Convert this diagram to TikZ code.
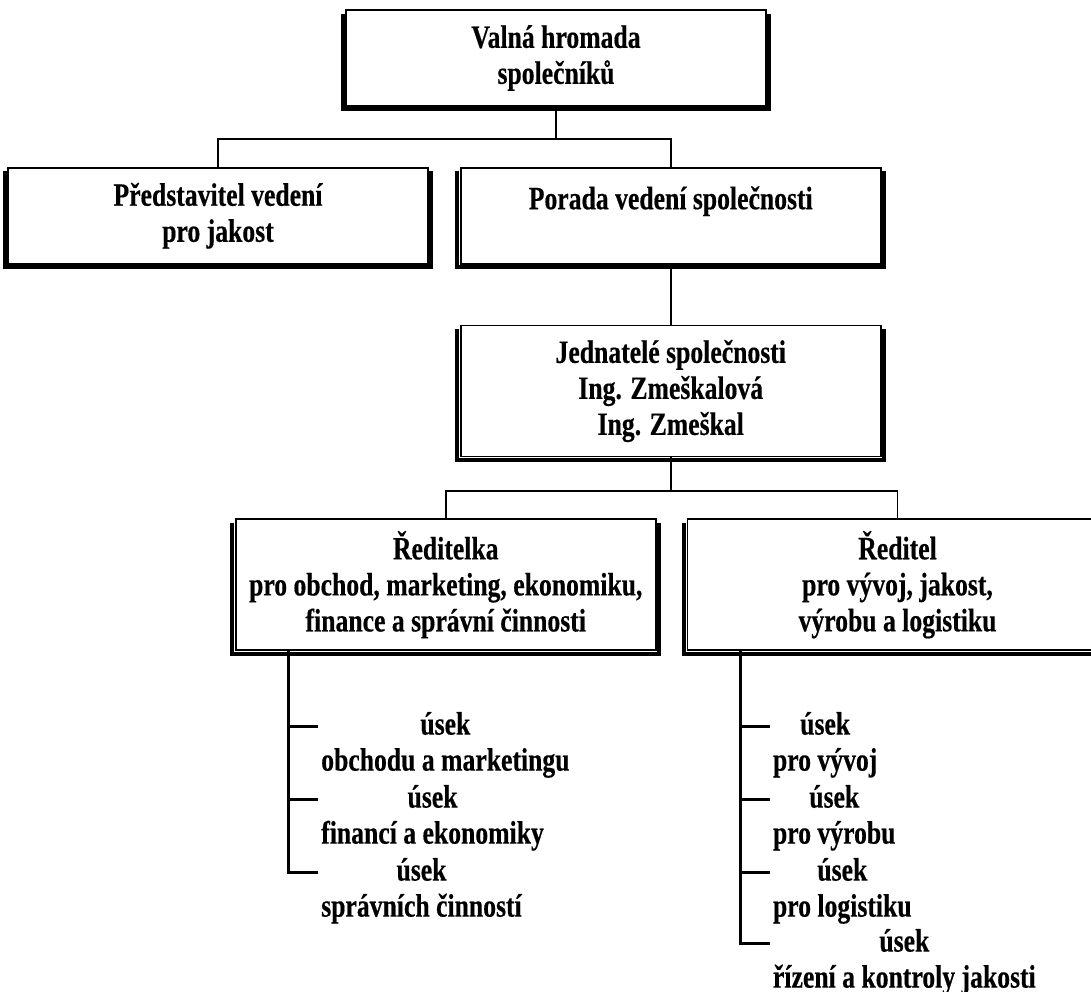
\documentclass[tikz,border=0pt]{standalone}
\usepackage{fontspec}
\setmainfont{Liberation Serif}[FakeStretch=0.79,BoldFeatures={FakeBold=0.4}]
\usetikzlibrary{calc, positioning}
\newcommand\boxshadow[1]{
    \draw [line width=2.3pt] ($(#1.north west)+(-0.05cm,-0.09cm)$) -- ($(#1.south west)+(-0.05cm,-0.05cm)$) -- ($(#1.south east)+(0.05cm,-0.05cm)$) -- ($(#1.north east)+(0.05cm,-0.09cm)$);
}
\tikzstyle{orgbox}  = [rectangle,draw=black,line width=1pt,fill=white,align=center,minimum width=8.4cm,minimum height=1.92cm,inner sep=0pt]
\tikzstyle{tallbox} = [orgbox,minimum height=2.62cm]
\tikzstyle{unit}    = [align=center,inner sep=0pt,anchor=north west]
\tikzstyle{link}    = [line width=1.1pt]
\tikzstyle{branch}  = [line width=1.6pt]

\begin{document}
\begin{tikzpicture}[font=\bfseries\fontsize{18.5}{20.5}\selectfont]
        \path[use as bounding box, clip] (0,0) rectangle (21.82,-19.84);

        \node[orgbox]                 (valna)        at (11.12,-1.16)                        {Valná hromada\\ společníků};
        \node[orgbox,anchor=north]    (predstavitel) at ($(valna.south)+(-6.76cm,-1.2cm)$)  {Představitel vedení\\ pro jakost};
        \node[orgbox]                 (porada)       [right=0.62cm of predstavitel]         {Porada vedení společnosti\\ ~};
        \node[tallbox,anchor=north]   (jednatele)    at ($(porada.south)+(0,-1.2cm)$)       {Jednatelé společnosti\\ Ing. Zmeškalová\\ Ing. Zmeškal};
        \node[tallbox,anchor=north]   (reditelka)    at ($(jednatele.south)+(-4.5cm,-1.22cm)$) {Ředitelka\\ pro obchod, marketing, ekonomiku,\\ finance a správní činnosti};
        \node[tallbox]                (reditel)      [right=0.6cm of reditelka]             {Ředitel\\ pro vývoj, jakost,\\ výrobu a logistiku};

        \draw[link] (valna.south) -- ++(0,-0.64cm) -| (predstavitel.north);
        \draw[link] (valna.south) -- ++(0,-0.64cm) -| (porada.north);
        \draw[link] (porada.south) -- (jednatele.north);
        \draw[link] (jednatele.south) -- ++(0,-0.68cm) -| (reditelka.north);
        \draw[link] (jednatele.south) -- ++(0,-0.68cm) -| (reditel.north);

        \boxshadow{valna}
        \boxshadow{predstavitel}
        \boxshadow{porada}
        \boxshadow{jednatele}
        \boxshadow{reditelka}
        \boxshadow{reditel}

        \coordinate (stem left)  at ($(reditelka.south west)+(1.08cm,0)$);
        \coordinate (stem right) at ($(reditel.south west)+(1.08cm,0)$);

        \node[unit] (obchod)    at ($(reditelka.south west)+(1.72cm,-1.21cm)$) {úsek\\ obchodu a marketingu};
        \node[unit] (finance)   at ($(reditelka.south west)+(1.72cm,-2.67cm)$) {úsek\\ financí a ekonomiky};
        \node[unit] (sprava)    at ($(reditelka.south west)+(1.72cm,-4.13cm)$) {úsek\\ správních činností};
        \node[unit] (vyvoj)     at ($(reditel.south west)+(1.72cm,-1.21cm)$)   {úsek\\ pro vývoj};
        \node[unit] (vyroba)    at ($(reditel.south west)+(1.72cm,-2.67cm)$)   {úsek\\ pro výrobu};
        \node[unit] (logistika) at ($(reditel.south west)+(1.72cm,-4.13cm)$)   {úsek\\ pro logistiku};
        \node[unit] (kontrola)  at ($(reditel.south west)+(1.72cm,-5.55cm)$)   {úsek\\ řízení a kontroly jakosti};

        \draw[branch] (stem left) |- ($(obchod.north west)+(-0.06cm,-0.3cm)$);
        \draw[branch] (stem left) |- ($(finance.north west)+(-0.06cm,-0.3cm)$);
        \draw[branch] (stem left) |- ($(sprava.north west)+(-0.06cm,-0.3cm)$);
        \draw[branch] (stem right) |- ($(vyvoj.north west)+(-0.06cm,-0.3cm)$);
        \draw[branch] (stem right) |- ($(vyroba.north west)+(-0.06cm,-0.3cm)$);
        \draw[branch] (stem right) |- ($(logistika.north west)+(-0.06cm,-0.3cm)$);
        \draw[branch] (stem right) |- ($(kontrola.north west)+(-0.06cm,-0.3cm)$);
\end{tikzpicture}
\end{document}
